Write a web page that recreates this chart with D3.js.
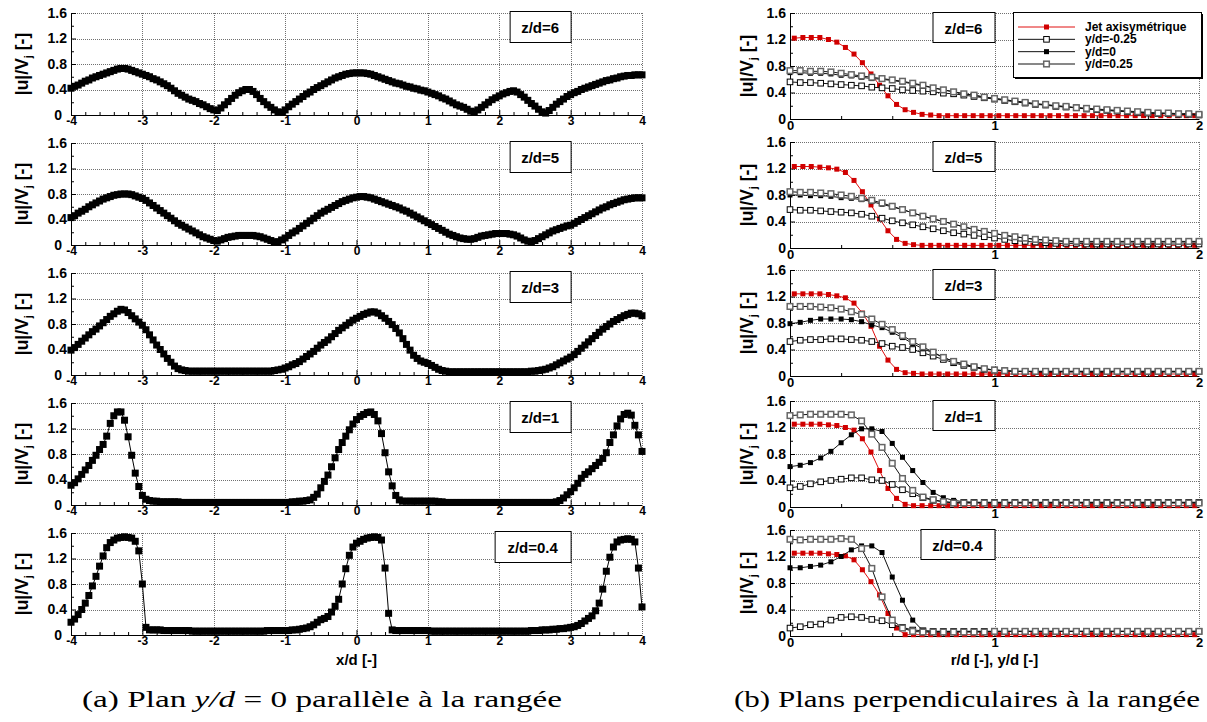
<!DOCTYPE html>
<html><head><meta charset="utf-8">
<script src="https://cdn.jsdelivr.net/npm/d3@7"></script>
<style>body{margin:0;background:#fff}</style>
</head><body>
<svg id="c" width="1207" height="722"></svg>
<script>
// ---------------- DATA ----------------
const panelLabels = ["z/d=6", "z/d=5", "z/d=3", "z/d=1", "z/d=0.4"];
const yTicks = [0, 0.4, 0.8, 1.2, 1.6];
const yMinorTicks = [0.2, 0.6, 1.0, 1.4];
const xLeftTicks = [-4, -3, -2, -1, 0, 1, 2, 3, 4];
const xRightTicks = [0, 1, 2];
const legendLabels = ["Jet axisymétrique", "y/d=-0.25", "y/d=0", "y/d=0.25"];

// (a) x/d positions
const xLeft = [-4,-3.95,-3.9,-3.85,-3.8,-3.75,-3.7,-3.65,-3.6,-3.55,-3.5,-3.45,-3.4,-3.35,-3.3,-3.25,-3.2,-3.15,-3.1,-3.05,
-3,-2.95,-2.9,-2.85,-2.8,-2.75,-2.7,-2.65,-2.6,-2.55,-2.5,-2.45,-2.4,-2.35,-2.3,-2.25,-2.2,-2.15,-2.1,-2.05,
-2,-1.95,-1.9,-1.85,-1.8,-1.75,-1.7,-1.65,-1.6,-1.55,-1.5,-1.45,-1.4,-1.35,-1.3,-1.25,-1.2,-1.15,-1.1,-1.05,
-1,-0.95,-0.9,-0.85,-0.8,-0.75,-0.7,-0.65,-0.6,-0.55,-0.5,-0.45,-0.4,-0.35,-0.3,-0.25,-0.2,-0.15,-0.1,-0.05,
0,0.05,0.1,0.15,0.2,0.25,0.3,0.35,0.4,0.45,0.5,0.55,0.6,0.65,0.7,0.75,0.8,0.85,0.9,0.95,
1,1.05,1.1,1.15,1.2,1.25,1.3,1.35,1.4,1.45,1.5,1.55,1.6,1.65,1.7,1.75,1.8,1.85,1.9,1.95,
2,2.05,2.1,2.15,2.2,2.25,2.3,2.35,2.4,2.45,2.5,2.55,2.6,2.65,2.7,2.75,2.8,2.85,2.9,2.95,
3,3.05,3.1,3.15,3.2,3.25,3.3,3.35,3.4,3.45,3.5,3.55,3.6,3.65,3.7,3.75,3.8,3.85,3.9,3.95,
4];

const uLeft_z6 = [.42,.45,.47,.50,.53,.55,.58,.60,.62,.64,.66,.68,.70,.72,.73,.73,.72,.70,.68,.66,
.64,.62,.60,.57,.55,.52,.49,.46,.42,.38,.34,.31,.28,.25,.23,.21,.18,.16,.13,.10,
.08,.07,.11,.16,.21,.26,.31,.35,.38,.40,.40,.37,.32,.26,.21,.16,.12,.08,.05,.04,
.08,.13,.17,.21,.25,.29,.33,.36,.40,.43,.46,.49,.52,.55,.58,.60,.62,.64,.65,.66,
.66,.66,.66,.65,.64,.62,.60,.58,.56,.54,.52,.50,.49,.47,.45,.44,.42,.41,.39,.38,
.36,.34,.32,.30,.27,.25,.22,.19,.16,.14,.12,.09,.06,.05,.08,.12,.16,.20,.24,.27,
.30,.33,.35,.37,.38,.36,.32,.28,.23,.18,.14,.09,.05,.03,.07,.12,.17,.21,.25,.29,
.32,.35,.37,.40,.42,.44,.46,.48,.50,.52,.54,.55,.57,.58,.60,.61,.62,.62,.63,.63,
.63];
const uLeft_z5 = [.43,.46,.50,.53,.56,.60,.63,.66,.69,.72,.74,.76,.78,.79,.80,.80,.80,.79,.77,.75,
.73,.70,.66,.62,.58,.54,.50,.46,.42,.38,.34,.31,.28,.25,.22,.19,.16,.13,.11,.09,
.07,.06,.08,.10,.12,.13,.14,.15,.15,.15,.15,.15,.14,.13,.11,.09,.07,.05,.05,.08,
.11,.15,.19,.22,.26,.30,.34,.38,.42,.46,.50,.53,.56,.59,.62,.65,.68,.70,.72,.74,
.75,.76,.76,.75,.74,.72,.70,.68,.66,.64,.62,.60,.58,.55,.53,.50,.47,.44,.41,.38,
.35,.32,.29,.26,.23,.20,.17,.15,.13,.11,.10,.09,.09,.10,.12,.14,.15,.16,.17,.18,
.18,.18,.18,.17,.16,.14,.11,.08,.06,.05,.07,.10,.13,.16,.19,.22,.24,.26,.28,.30,
.31,.34,.37,.40,.43,.46,.49,.52,.55,.58,.60,.63,.65,.67,.69,.71,.72,.73,.74,.74,
.74];
const uLeft_z3 = [.39,.43,.48,.53,.58,.63,.68,.72,.77,.82,.87,.92,.96,1.00,1.03,1.02,.98,.93,.88,.83,
.78,.71,.63,.55,.47,.40,.33,.26,.20,.14,.10,.08,.07,.06,.06,.06,.06,.06,.06,.06,
.06,.06,.06,.06,.06,.06,.06,.06,.06,.06,.06,.06,.06,.06,.06,.06,.06,.07,.08,.09,
.11,.13,.16,.18,.21,.25,.29,.33,.37,.42,.47,.51,.55,.60,.65,.70,.74,.78,.82,.86,
.89,.92,.95,.97,.99,.99,.97,.93,.89,.84,.79,.73,.66,.57,.48,.39,.31,.26,.22,.20,
.18,.15,.12,.09,.07,.06,.05,.05,.05,.05,.05,.05,.05,.05,.05,.05,.05,.05,.05,.05,
.05,.05,.05,.05,.05,.05,.05,.05,.05,.06,.06,.07,.08,.09,.11,.13,.16,.19,.22,.25,
.28,.32,.37,.42,.47,.52,.57,.62,.67,.72,.76,.80,.84,.87,.90,.93,.95,.97,.97,.96,
.93];
const uLeft_z1 = [.31,.35,.41,.48,.55,.62,.70,.78,.87,.95,1.08,1.28,1.40,1.46,1.46,1.33,1.07,.78,.50,.29,
.15,.09,.07,.06,.06,.05,.05,.05,.05,.05,.05,.04,.04,.04,.04,.04,.04,.04,.04,.04,
.04,.04,.04,.04,.04,.04,.04,.04,.04,.04,.04,.04,.04,.04,.04,.04,.04,.04,.04,.04,
.04,.04,.05,.05,.06,.06,.07,.08,.12,.17,.27,.37,.47,.60,.74,.87,.98,1.08,1.18,1.27,
1.34,1.39,1.42,1.45,1.46,1.42,1.32,1.12,.82,.52,.30,.15,.08,.06,.06,.06,.06,.06,.06,.06,
.06,.06,.06,.05,.05,.04,.04,.04,.04,.04,.04,.04,.04,.04,.04,.04,.04,.04,.04,.04,
.04,.04,.04,.04,.04,.04,.04,.04,.04,.04,.04,.04,.04,.04,.04,.04,.05,.07,.11,.16,
.21,.27,.34,.42,.48,.52,.57,.62,.67,.73,.82,.98,1.10,1.24,1.35,1.42,1.44,1.41,1.25,1.10,
.84];
const uLeft_z04 = [.20,.25,.32,.40,.50,.62,.77,.92,1.08,1.24,1.37,1.45,1.49,1.52,1.53,1.54,1.53,1.52,1.47,1.32,
.80,.12,.08,.08,.08,.08,.07,.07,.07,.07,.07,.07,.07,.07,.06,.06,.06,.06,.06,.06,
.06,.06,.06,.06,.06,.06,.06,.06,.06,.06,.06,.06,.06,.06,.06,.07,.07,.07,.07,.07,
.07,.07,.08,.08,.09,.10,.11,.13,.16,.20,.24,.26,.29,.36,.45,.56,.80,1.04,1.25,1.38,
1.44,1.47,1.50,1.52,1.53,1.54,1.53,1.49,1.05,.34,.08,.07,.07,.07,.07,.07,.07,.07,.07,.07,
.07,.06,.06,.06,.06,.06,.06,.06,.06,.06,.06,.06,.06,.06,.06,.06,.06,.06,.06,.06,
.06,.06,.06,.06,.06,.06,.06,.06,.06,.07,.07,.07,.08,.08,.08,.09,.09,.10,.10,.11,
.12,.13,.15,.18,.22,.26,.30,.38,.50,.72,1.00,1.22,1.38,1.46,1.49,1.50,1.51,1.50,1.46,1.05,
.44];

// (b) r/d positions
const rJet = [0.021,0.063,0.104,0.146,0.188,0.229,0.271,0.313,0.354,0.396,0.438,0.479,
0.521,0.563,0.604,0.646,0.688,0.729,0.771,0.813,0.854,0.896,0.938,0.979,
1.021,1.063,1.104,1.146,1.188,1.229,1.271,1.313,1.354,1.396,1.438,1.479,
1.521,1.563,1.604,1.646,1.688,1.729,1.771,1.813,1.854,1.896,1.938,1.979];
const rPlane = [0,0.05,0.1,0.15,0.2,0.25,0.3,0.35,0.4,0.45,0.5,0.55,0.6,0.65,0.7,0.75,0.8,0.85,0.9,0.95,
1,1.05,1.1,1.15,1.2,1.25,1.3,1.35,1.4,1.45,1.5,1.55,1.6,1.65,1.7,1.75,1.8,1.85,1.9,1.95,2];

const jet_z6 = [1.22,1.23,1.23,1.23,1.20,1.16,1.08,.98,.85,.68,.51,.35,
.22,.14,.10,.07,.06,.05,.05,.05,.05,.05,.05,.05,
.05,.05,.05,.05,.05,.05,.05,.05,.05,.05,.05,.05,
.05,.05,.05,.05,.05,.05,.05,.05,.05,.05,.05,.05];
const jet_z5 = [1.23,1.23,1.23,1.22,1.21,1.19,1.14,1.02,.85,.65,.44,.26,
.13,.07,.05,.04,.04,.04,.04,.04,.04,.04,.04,.04,
.04,.04,.04,.04,.04,.04,.04,.04,.04,.04,.04,.04,
.04,.04,.04,.04,.04,.04,.04,.04,.04,.04,.04,.04];
const jet_z3 = [1.24,1.24,1.24,1.24,1.23,1.21,1.18,1.10,.95,.75,.45,.24,
.10,.05,.04,.03,.03,.03,.03,.03,.03,.03,.03,.03,
.03,.03,.03,.03,.03,.03,.03,.03,.03,.03,.03,.03,
.03,.03,.03,.03,.03,.03,.03,.03,.03,.03,.03,.03];
const jet_z1 = [1.25,1.25,1.25,1.25,1.24,1.23,1.20,1.16,1.03,.83,.55,.28,
.13,.04,.02,.02,.02,.02,.02,.02,.02,.02,.02,.02,
.02,.02,.02,.02,.02,.02,.02,.02,.02,.02,.02,.02,
.02,.02,.02,.02,.02,.02,.02,.02,.02,.02,.02,.02];
const jet_z04 = [1.25,1.25,1.25,1.25,1.24,1.23,1.21,1.15,1.00,.82,.62,.34,
.12,.02,.02,.02,.02,.02,.02,.02,.02,.02,.02,.02,
.02,.02,.02,.02,.02,.02,.02,.02,.02,.02,.02,.02,
.02,.02,.02,.02,.02,.02,.02,.02,.02,.02,.02,.02];

const ym025_z6 = [.56,.55,.55,.54,.53,.52,.51,.50,.48,.47,.46,.44,.43,.42,.41,.39,.38,.36,.34,.32,
.30,.28,.26,.24,.22,.21,.19,.18,.17,.15,.14,.13,.12,.11,.10,.09,.08,.08,.07,.07,.06];
const y0_z6 = [.70,.70,.69,.69,.68,.66,.65,.63,.61,.60,.58,.56,.53,.50,.47,.44,.41,.38,.36,.33,
.31,.29,.27,.25,.23,.21,.20,.18,.17,.16,.14,.13,.12,.11,.10,.09,.09,.08,.07,.07,.06];
const yp025_z6 = [.73,.73,.72,.72,.71,.69,.67,.65,.63,.61,.59,.57,.54,.51,.47,.44,.41,.38,.36,.33,
.31,.29,.27,.25,.23,.22,.20,.19,.17,.16,.15,.14,.13,.12,.11,.10,.09,.09,.08,.08,.07];

const ym025_z5 = [.58,.57,.57,.56,.55,.54,.53,.51,.48,.45,.41,.38,.35,.32,.29,.26,.23,.21,.19,.17,
.15,.13,.11,.10,.09,.08,.07,.07,.07,.06,.06,.06,.06,.06,.06,.06,.06,.06,.06,.06,.06];
const y0_z5 = [.80,.80,.79,.79,.78,.76,.75,.73,.70,.66,.62,.58,.53,.48,.44,.40,.36,.32,.28,.25,
.22,.19,.17,.15,.13,.12,.11,.10,.09,.09,.09,.09,.09,.09,.09,.09,.09,.09,.09,.09,.09];
const yp025_z5 = [.85,.84,.84,.83,.82,.80,.78,.75,.72,.68,.63,.58,.53,.48,.44,.40,.36,.32,.28,.25,
.22,.19,.17,.15,.13,.12,.11,.10,.10,.10,.10,.10,.10,.10,.10,.10,.10,.10,.10,.10,.10];

const ym025_z3 = [.52,.54,.55,.55,.56,.56,.55,.54,.52,.49,.45,.43,.40,.35,.30,.25,.20,.16,.13,.10,
.09,.08,.07,.07,.07,.07,.07,.07,.07,.07,.07,.07,.07,.07,.07,.07,.07,.07,.07,.07,.07];
const y0_z3 = [.79,.81,.84,.86,.86,.86,.85,.82,.77,.73,.66,.58,.49,.41,.35,.28,.22,.18,.14,.11,
.09,.08,.07,.07,.06,.06,.06,.06,.06,.06,.06,.06,.06,.06,.06,.06,.06,.06,.06,.06,.06];
const yp025_z3 = [1.05,1.05,1.05,1.04,1.03,1.01,.97,.93,.86,.78,.70,.61,.52,.44,.36,.28,.22,.18,.14,.11,
.09,.08,.07,.07,.07,.07,.07,.07,.07,.07,.07,.07,.07,.07,.07,.07,.07,.07,.07,.07,.07];

const ym025_z1 = [.29,.31,.35,.38,.40,.42,.44,.44,.41,.40,.34,.26,.20,.14,.10,.08,.07,.07,.07,.07,
.07,.07,.07,.07,.07,.07,.07,.07,.07,.07,.07,.07,.07,.07,.07,.07,.07,.07,.07,.07,.07];
const y0_z1 = [.61,.63,.67,.74,.84,.97,1.09,1.18,1.18,1.14,.96,.75,.55,.37,.22,.14,.10,.08,.07,.07,
.07,.07,.07,.07,.07,.07,.07,.07,.07,.07,.07,.07,.07,.07,.07,.07,.07,.07,.07,.07,.07];
const yp025_z1 = [1.38,1.39,1.40,1.40,1.40,1.40,1.39,1.30,1.10,.90,.66,.43,.25,.15,.11,.08,.06,.06,.06,.06,
.06,.06,.06,.06,.06,.06,.06,.06,.06,.06,.06,.06,.06,.06,.06,.06,.06,.06,.06,.06,.06];

const ym025_z04 = [.12,.14,.17,.18,.24,.28,.29,.28,.25,.23,.17,.13,.09,.08,.07,.07,.07,.07,.07,.07,
.07,.07,.07,.07,.07,.07,.07,.07,.07,.07,.07,.07,.07,.07,.07,.07,.07,.07,.07,.07,.07];
const y0_z04 = [1.03,1.03,1.05,1.07,1.12,1.20,1.30,1.36,1.36,1.26,.89,.54,.24,.08,.07,.07,.07,.07,.07,.07,
.07,.07,.07,.07,.07,.07,.07,.07,.07,.07,.07,.07,.07,.07,.07,.07,.07,.07,.07,.07,.07];
const yp025_z04 = [1.46,1.45,1.46,1.46,1.46,1.47,1.46,1.32,1.02,.59,.24,.12,.07,.06,.06,.06,.06,.06,.06,.06,
.07,.07,.07,.07,.07,.07,.07,.07,.07,.07,.07,.07,.07,.07,.07,.07,.07,.07,.07,.07,.07];

const leftSeries = [uLeft_z6, uLeft_z5, uLeft_z3, uLeft_z1, uLeft_z04];
const jetSeries = [jet_z6, jet_z5, jet_z3, jet_z1, jet_z04];
const ym025Series = [ym025_z6, ym025_z5, ym025_z3, ym025_z1, ym025_z04];
const y0Series = [y0_z6, y0_z5, y0_z3, y0_z1, y0_z04];
const yp025Series = [yp025_z6, yp025_z5, yp025_z3, yp025_z1, yp025_z04];

// ---------------- LAYOUT / STYLE ----------------
const svg = d3.select("#c");
const SANS = "'Liberation Sans', Arial, Helvetica, sans-serif";
const NARROW = "'Liberation Sans Narrow','Arial Narrow','Liberation Sans',Arial,sans-serif";
const SERIF = "'Liberation Serif','Times New Roman',serif";
const GRID = "#707070";

const leftTops = [13, 143, 273, 403, 533], LH = 102;
const rightTops = [13, 142, 270, 401, 530], RH = 106;
const xL = d3.scaleLinear().domain([-4, 4]).range([71, 642]);
const xR = d3.scaleLinear().domain([0, 2]).range([790, 1199]);

const styles = {
  left:  {line: "#000", lw: 1, size: 7, fill: "#000"},
  jet:   {line: "#e01010", lw: 1, size: 5, fill: "#d00000"},
  m025:  {line: "#111", lw: 1, size: 5.6, fill: "#fff", stroke: "#000", sw: 1},
  y0:    {line: "#111", lw: 1, size: 5, fill: "#000"},
  p025:  {line: "#111", lw: 1, size: 5.6, fill: "#fff", stroke: "#666", sw: 1.5}
};

function drawSeries(g, x, y, xs, ys, o) {
  const n = Math.min(xs.length, ys.length);
  const pts = d3.range(n).map(i => [xs[i], ys[i]]);
  g.append("path").datum(pts)
    .attr("d", d3.line().x(d => x(d[0])).y(d => y(d[1])))
    .attr("fill", "none").attr("stroke", o.line).attr("stroke-width", o.lw);
  const s = o.size;
  g.append("g").selectAll("rect").data(pts).join("rect")
    .attr("x", d => x(d[0]) - s / 2).attr("y", d => y(d[1]) - s / 2)
    .attr("width", s).attr("height", s)
    .attr("fill", o.fill).attr("stroke", o.stroke || "none").attr("stroke-width", o.sw || 0);
}

function panel(x, top, h, opt) {
  const y = d3.scaleLinear().domain([0, 1.6]).range([top + h, top]);
  const g = svg.append("g");
  const [x0, x1] = x.range();
  const px = v => Math.round(v) + 0.5;
  // grid
  g.append("g").selectAll("line").data(yTicks.slice(1)).join("line")
    .attr("x1", x0).attr("x2", x1).attr("y1", d => px(y(d))).attr("y2", d => px(y(d)))
    .attr("stroke", GRID).attr("stroke-dasharray", "1,1");
  g.append("g").selectAll("line").data(opt.xGrid).join("line")
    .attr("x1", d => px(x(d))).attr("x2", d => px(x(d))).attr("y1", top).attr("y2", top + h)
    .attr("stroke", GRID).attr("stroke-dasharray", "1,1");
  // minor ticks
  g.append("g").attr("transform", `translate(${Math.round(x0)},0)`)
    .call(d3.axisLeft(y).tickValues(yMinorTicks).tickSize(-3).tickFormat(""))
    .call(s => s.select(".domain").remove());
  g.append("g").attr("transform", `translate(0,${Math.round(top + h)})`)
    .call(d3.axisBottom(x).tickValues(opt.xMinor).tickSize(-3).tickFormat(""))
    .call(s => s.select(".domain").remove());
  // major axes
  const gy = g.append("g").attr("transform", `translate(${Math.round(x0)},0)`)
    .call(d3.axisLeft(y).tickValues(yTicks).tickSize(-5).tickSizeOuter(0).tickPadding(opt.yPad)
      .tickFormat(d => d === 0 ? "0" : d.toFixed(1)));
  gy.selectAll("text").attr("font-family", SANS).attr("font-weight", "bold")
    .attr("font-size", 14).attr("fill", "#000")
    .attr("dx", d => d === 0 ? opt.zeroDx : 0);
  const gx = g.append("g").attr("transform", `translate(0,${Math.round(top + h)})`)
    .call(d3.axisBottom(x).tickValues(opt.xTicks).tickSize(-5).tickSizeOuter(0).tickPadding(opt.xPad)
      .tickFormat(d => String(d)));
  gx.selectAll("text").attr("font-family", opt.xFont).attr("font-weight", "bold")
    .attr("font-size", opt.xFontSize).attr("fill", "#000");
  gx.selectAll(".tick line").filter(d => d === x.domain()[0] || d === x.domain()[1]).remove();
  // y title
  const t = g.append("text")
    .attr("transform", `translate(${opt.titleX},${top + h / 2}) rotate(-90)`)
    .attr("text-anchor", "middle").attr("font-family", SANS).attr("font-weight", "bold")
    .attr("font-size", 17.5).attr("fill", "#000");
  t.append("tspan").text("|u|/V");
  t.append("tspan").attr("font-size", 11).attr("dy", 4).text("j");
  t.append("tspan").attr("dy", -4).text(" [-]");
  return {g, y};
}

function labelBox(g, xRight, top, w, hgt, label) {
  g.append("rect").attr("x", xRight - w + 0.5).attr("y", top + 0.5).attr("width", w).attr("height", hgt)
    .attr("fill", "#fff").attr("stroke", "#000").attr("stroke-width", 1);
  g.append("text").attr("x", xRight - w / 2).attr("y", top + hgt / 2 + 1)
    .attr("text-anchor", "middle").attr("dominant-baseline", "central")
    .attr("font-family", SANS).attr("font-weight", "bold").attr("font-size", 15).text(label);
}

// ---------------- (a) LEFT PANELS ----------------
leftTops.forEach((top, i) => {
  const {g, y} = panel(xL, top, LH, {
    xGrid: [-3, -2, -1, 0, 1, 2, 3, 4],
    xTicks: xLeftTicks,
    xMinor: d3.range(-40, 41, 2).map(v => v / 10).filter(v => !Number.isInteger(v)),
    yPad: 4, zeroDx: -5, xPad: 1, xFont: NARROW, xFontSize: 12, titleX: 28
  });
  drawSeries(g, xL, y, xLeft, leftSeries[i], styles.left);
  const w = panelLabels[i].length > 5 ? 76 : 61;
  labelBox(g, xL(3), top - 2, w, 31, panelLabels[i]);
});

// ---------------- (b) RIGHT PANELS ----------------
rightTops.forEach((top, i) => {
  const {g, y} = panel(xR, top, RH, {
    xGrid: [1, 2],
    xTicks: xRightTicks,
    xMinor: [0.25, 0.5, 0.75, 1.25, 1.5, 1.75],
    yPad: 4, zeroDx: 0, xPad: 2, xFont: SANS, xFontSize: 13, titleX: 753
  });
  drawSeries(g, xR, y, rJet, jetSeries[i], styles.jet);
  drawSeries(g, xR, y, rPlane, ym025Series[i], styles.m025);
  drawSeries(g, xR, y, rPlane, y0Series[i], styles.y0);
  drawSeries(g, xR, y, rPlane, yp025Series[i], styles.p025);
  const w = panelLabels[i].length > 5 ? 74 : 62;
  labelBox(g, xR(1), top - 1, w, 30, panelLabels[i]);
});

// ---------------- LEGEND ----------------
(function legend() {
  const g = svg.append("g");
  const lx = 1013, ly = 12, lw = 188, lh = 65;
  g.append("rect").attr("x", lx + 2).attr("y", ly + 2).attr("width", lw).attr("height", lh).attr("fill", "#000");
  g.append("rect").attr("x", lx + 0.5).attr("y", ly + 0.5).attr("width", lw).attr("height", lh)
    .attr("fill", "#fff").attr("stroke", "#000");
  const rowY = d3.scalePoint().domain(legendLabels).range([ly + 15, ly + 52]);
  const st = [styles.jet, styles.m025, styles.y0, styles.p025];
  legendLabels.forEach((lab, i) => {
    const yy = rowY(lab);
    g.append("line").attr("x1", 1018).attr("x2", 1075).attr("y1", yy).attr("y2", yy)
      .attr("stroke", st[i].line).attr("stroke-width", 1);
    const s = st[i].size;
    g.append("rect").attr("x", 1046.5 - s / 2).attr("y", yy - s / 2).attr("width", s).attr("height", s)
      .attr("fill", st[i].fill).attr("stroke", st[i].stroke || "none").attr("stroke-width", st[i].sw || 0);
    g.append("text").attr("x", 1085).attr("y", yy).attr("dominant-baseline", "central")
      .attr("font-family", SANS).attr("font-weight", "bold").attr("font-size", 12).text(lab);
  });
})();

// ---------------- AXIS TITLES / CAPTIONS ----------------
svg.append("text").attr("x", xL(0)).attr("y", 665).attr("text-anchor", "middle")
  .attr("font-family", NARROW).attr("font-weight", "bold").attr("font-size", 15).text("x/d [-]");
svg.append("text").attr("x", xR(1)).attr("y", 665).attr("text-anchor", "middle")
  .attr("font-family", NARROW).attr("font-weight", "bold").attr("font-size", 15).text("r/d [-], y/d [-]");

const capA = svg.append("text").attr("x", 322).attr("y", 707).attr("text-anchor", "middle")
  .attr("font-family", SERIF).attr("font-size", 23)
  .attr("textLength", 480).attr("lengthAdjust", "spacingAndGlyphs");
capA.append("tspan").text("(a) Plan ");
capA.append("tspan").attr("font-style", "italic").text("y/d");
capA.append("tspan").text(" = 0 parallèle à la rangée");
svg.append("text").attr("x", 967).attr("y", 707).attr("text-anchor", "middle")
  .attr("font-family", SERIF).attr("font-size", 23)
  .attr("textLength", 466).attr("lengthAdjust", "spacingAndGlyphs")
  .text("(b) Plans perpendiculaires à la rangée");
</script>
</body></html>
